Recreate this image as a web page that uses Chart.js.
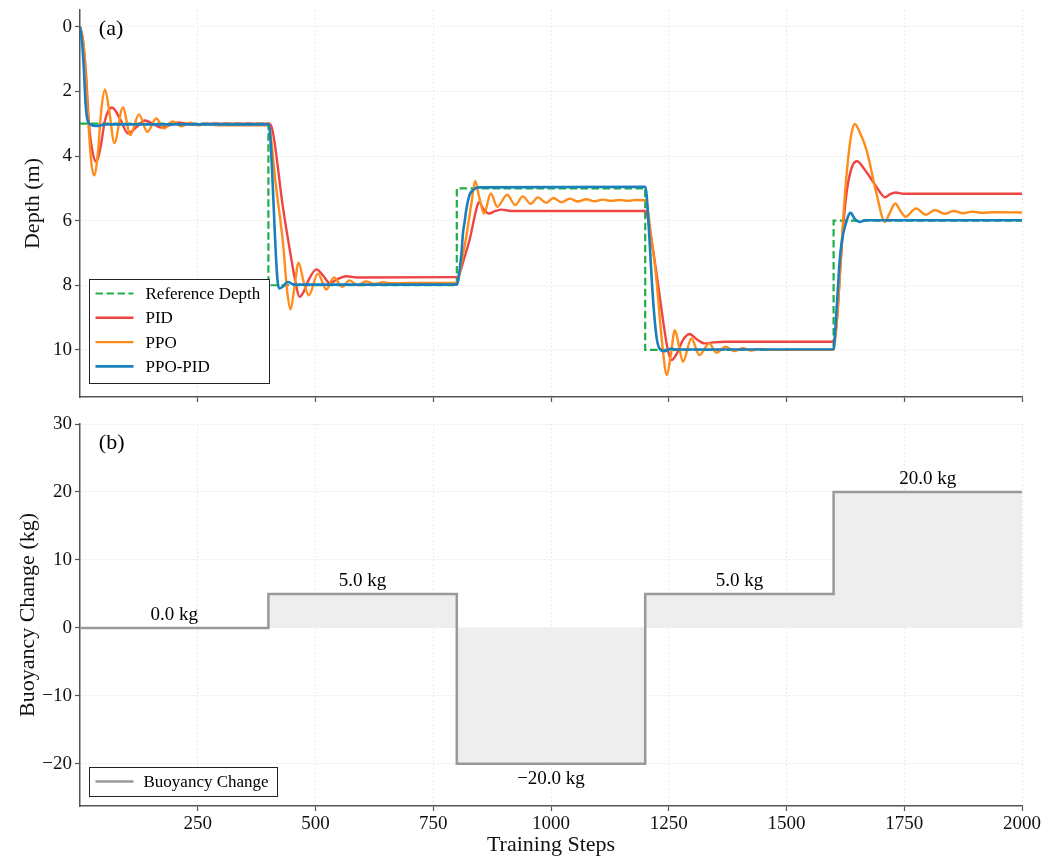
<!DOCTYPE html>
<html>
<head>
<meta charset="utf-8">
<script src="https://cdn.jsdelivr.net/npm/chart.js@4.4.1/dist/chart.umd.min.js"></script>
<style>
  html, body { margin: 0; padding: 0; background: #fff; }
  #wrap { position: relative; width: 1057px; height: 859px; }
  canvas { position: absolute; left: 0; }
  #depthChart { top: 0; }
  #buoyChart { top: 410px; }
</style>
</head>
<body>
<div id="wrap">
  <canvas id="depthChart" width="1057" height="410" style="width:1057px;height:410px"></canvas>
  <canvas id="buoyChart" width="1057" height="449" style="width:1057px;height:449px"></canvas>
</div>
<script>
// ---- data ----
// phase boundaries (training steps) and the set-point / disturbance for each phase
const phaseBounds = [0, 400, 800, 1200, 1600, 2000];
const refDepth = [3, 8, 5, 10, 6];          // m
const buoyancyKg = [0, 5, -20, 5, 20];      // kg

// tick values
const stepTicks = [250, 500, 750, 1000, 1250, 1500, 1750, 2000];
const depthTicks = [0, 2, 4, 6, 8, 10];
const buoyTicks = [-20, -10, 0, 10, 20, 30];

// depth responses: [training step, depth (m)]
const pidTrace = [
  [0,0],[5,0.3],[12,1.3],[19,3.0],[27,3.9],[35,4.18],[44,3.7],[53,2.9],[68,2.5],[85,2.85],[102,3.3],
  [120,3.1],[138,2.9],[155,3.0],[172,3.12],[190,3.05],[208,2.96],[225,3.0],[240,3.03],[270,3.0],[400,3.0],
  [404,3.02],[410,3.3],[431,5.6],[450,7.3],[458,7.95],[466,8.36],[475,8.2],[485,7.85],[502,7.51],[516,7.7],
  [530,7.93],[548,7.8],[565,7.72],[590,7.76],[800,7.75],
  [804,7.7],[815,7.2],[827,6.6],[841,5.68],[847,5.42],[857,5.65],[868,5.78],[882,5.7],[895,5.66],[915,5.7],[1200,5.7],
  [1203,5.75],[1210,6.3],[1223,7.53],[1240,9.3],[1248,10.0],[1256,10.32],[1266,10.15],[1280,9.7],[1294,9.51],
  [1310,9.68],[1326,9.8],[1345,9.77],[1370,9.75],[1600,9.75],
  [1602,9.7],[1608,8.9],[1615,7.3],[1622,5.9],[1630,4.9],[1640,4.3],[1650,4.16],[1665,4.4],[1684,4.8],[1700,5.15],
  [1709,5.28],[1720,5.18],[1732,5.13],[1748,5.17],[2000,5.17]
];
const ppoTrace = [
  [0,0],[8,0.6],[18,3.0],[24,4.2],[30,4.6],[38,3.9],[45,2.6],[53,1.94],[62,2.6],[73,3.6],[91,2.5],[107,3.35],
  [125,2.71],[143,3.25],[162,2.84],[178,3.15],[197,2.93],[215,3.08],[233,2.97],[252,3.05],[270,3.01],[290,3.05],[400,3.05],
  [403,3.15],[415,4.8],[431,6.7],[440,8.2],[447,8.75],[455,8.1],[464,7.3],[475,7.9],[486,8.31],[505,7.64],[523,8.13],
  [539,7.76],[557,8.05],[572,7.85],[590,8.0],[607,7.88],[625,7.96],[643,7.91],[660,7.94],[700,7.93],[800,7.93],
  [803,7.85],[810,7.3],[820,6.5],[831,5.47],[839,4.77],[848,5.3],[858,5.78],[872,5.16],[886,5.57],[907,5.2],[924,5.52],
  [940,5.25],[957,5.48],[972,5.28],[990,5.45],[1005,5.3],[1022,5.43],[1040,5.32],[1057,5.41],[1075,5.34],[1093,5.4],
  [1110,5.35],[1128,5.39],[1145,5.36],[1163,5.39],[1180,5.36],[1200,5.37],
  [1203,5.45],[1212,6.4],[1223,7.7],[1236,9.8],[1246,10.78],[1254,10.2],[1263,9.39],[1272,9.9],[1280,10.37],[1298,9.65],
  [1315,10.16],[1336,9.8],[1351,10.09],[1371,9.9],[1389,10.04],[1407,9.95],[1425,10.02],[1445,9.97],[1465,10.0],[1600,10.0],
  [1602,9.85],[1610,8.5],[1620,6.0],[1630,4.2],[1638,3.3],[1645,3.01],[1655,3.25],[1670,3.82],[1691,5.16],[1709,6.04],
  [1718,5.8],[1731,5.47],[1742,5.7],[1753,5.88],[1775,5.62],[1796,5.82],[1815,5.67],[1836,5.79],[1855,5.7],[1875,5.77],
  [1895,5.72],[1915,5.76],[1940,5.74],[2000,5.75]
];
const ppoPidTrace = [
  [0,0],[3,0.3],[7,1.0],[12,2.4],[16,2.9],[22,3.02],[35,3.07],[55,3.02],[400,3.02],
  [403,3.2],[408,4.5],[414,6.5],[419,7.8],[423,8.1],[430,8.05],[441,7.9],[455,7.98],[800,7.98],
  [803,7.85],[807,7.4],[810,7.0],[813,6.4],[817,6.0],[820,5.67],[827,5.21],[835,5.05],[845,4.97],[1200,4.95],
  [1203,5.2],[1208,6.3],[1213,7.6],[1218,8.7],[1224,9.6],[1230,9.95],[1241,10.04],[1255,9.97],[1270,9.99],[1600,9.98],
  [1602,9.7],[1607,8.6],[1613,7.22],[1618,6.6],[1624,6.19],[1636,5.76],[1645,5.95],[1655,6.04],[1668,5.99],[2000,5.99]
];

// ---- helpers ----
const FONT = "'Liberation Serif', 'Times New Roman', serif";
const AXIS = '#555555';
const GRID = '#ebebeb';

const toXY = trace => trace.map(([x, y]) => ({ x, y }));
// step series: the value of phase i starts at phaseBounds[i]
const stepPoints = values => phaseBounds.map((b, i) => ({ x: b, y: values[Math.min(i, values.length - 1)] }));
const minusSign = v => String(v).replace('-', '\u2212');

const fixedTicks = list => scale => { scale.ticks = list.map(v => ({ value: v })); };

// panel tag "(a)" / "(b)" in the upper-left corner of the plot area
const panelTag = {
  id: 'panelTag',
  afterDraw(chart, args, opts) {
    const { ctx, chartArea: a } = chart;
    ctx.save();
    ctx.font = '22px ' + FONT;
    ctx.fillStyle = '#000';
    ctx.textAlign = 'left';
    ctx.textBaseline = 'middle';
    ctx.fillText(opts.text, a.left + 0.02 * (a.right - a.left), a.top + 0.05 * (a.bottom - a.top));
    ctx.restore();
  }
};

// framed legend box drawn inside the plot area
const boxLegend = {
  id: 'boxLegend',
  afterDraw(chart, args, opts) {
    const { ctx } = chart;
    const ds = chart.data.datasets;
    ctx.save();
    ctx.fillStyle = '#fff';
    ctx.fillRect(opts.x, opts.y, opts.w, opts.h);
    ctx.strokeStyle = '#222';
    ctx.lineWidth = 1;
    ctx.strokeRect(opts.x, opts.y, opts.w, opts.h);
    ctx.font = '17px ' + FONT;
    ctx.textAlign = 'left';
    ctx.textBaseline = 'middle';
    ds.forEach((d, i) => {
      const y = opts.rowY + i * opts.rowGap;
      ctx.beginPath();
      ctx.setLineDash(d.borderDash || []);
      ctx.strokeStyle = d.borderColor;
      ctx.lineWidth = d.borderWidth;
      ctx.moveTo(opts.x + 6, y);
      ctx.lineTo(opts.x + 44, y);
      ctx.stroke();
      ctx.setLineDash([]);
      ctx.fillStyle = '#000';
      ctx.fillText(d.label, opts.x + opts.textDx, y + 1);
    });
    ctx.restore();
  }
};

// value label over each buoyancy phase
const phaseLabels = {
  id: 'phaseLabels',
  afterDatasetsDraw(chart) {
    const { ctx, scales: { x, y } } = chart;
    ctx.save();
    ctx.font = '19px ' + FONT;
    ctx.fillStyle = '#000';
    ctx.textAlign = 'center';
    buoyancyKg.forEach((v, i) => {
      const px = x.getPixelForValue((phaseBounds[i] + phaseBounds[i + 1]) / 2);
      const py = y.getPixelForValue(v);
      const text = minusSign(v.toFixed(1)) + ' kg';
      if (v >= 0) {
        ctx.textBaseline = 'alphabetic';
        ctx.fillText(text, px, py - 8);
      } else {
        ctx.textBaseline = 'top';
        ctx.fillText(text, px, py + 6);
      }
    });
    ctx.restore();
  }
};

const xScale = (showLabels, height) => ({
  type: 'linear',
  min: 0,
  max: 2000,
  afterBuildTicks: fixedTicks(stepTicks),
  afterFit: s => { s.height = height; s.paddingLeft = 0; s.paddingRight = 0; },
  ticks: { display: showLabels, padding: 2, color: '#111', font: { family: FONT, size: 19 }, callback: v => String(v) },
  grid: { color: GRID, lineWidth: 1, tickLength: 5, tickColor: AXIS, tickWidth: 1.2 },
  border: { color: AXIS, width: 1.5, dash: [2, 2] },
  title: showLabels
    ? { display: true, text: 'Training Steps', color: '#111', font: { family: FONT, size: 22 }, padding: { top: 0, bottom: 1 } }
    : { display: false }
});

const yScale = (extra) => Object.assign({
  type: 'linear',
  afterFit: s => { s.width = 80; s.paddingTop = 0; s.paddingBottom = 0; },
  ticks: { padding: 3, color: '#111', font: { family: FONT, size: 19 } },
  grid: { color: GRID, lineWidth: 1, tickLength: 5, tickColor: AXIS, tickWidth: 1.2 },
  border: { color: AXIS, width: 1.5, dash: [2, 2] }
}, extra);

Chart.defaults.font.family = FONT;

// ---- (a) depth tracking ----
new Chart(document.getElementById('depthChart'), {
  type: 'line',
  data: {
    datasets: [
      { label: 'Reference Depth', data: stepPoints(refDepth), stepped: 'before', borderColor: '#1fae48',
        borderWidth: 2.2, borderDash: [7.5, 3.5], pointRadius: 0, fill: false, order: 4 },
      { label: 'PID', data: toXY(pidTrace), cubicInterpolationMode: 'monotone', borderColor: '#f04444',
        borderWidth: 2.4, pointRadius: 0, fill: false, order: 3 },
      { label: 'PPO', data: toXY(ppoTrace), cubicInterpolationMode: 'monotone', borderColor: '#ff8c1a',
        borderWidth: 2.4, pointRadius: 0, fill: false, order: 2 },
      { label: 'PPO-PID', data: toXY(ppoPidTrace), cubicInterpolationMode: 'monotone', borderColor: '#1a7fbd',
        borderWidth: 2.6, pointRadius: 0, fill: false, order: 1 }
    ]
  },
  options: {
    responsive: false,
    animation: false,
    layout: { padding: { top: 10, right: 35, bottom: 0, left: 0 } },
    scales: {
      x: xScale(false, 13),
      y: yScale({
        reverse: true, min: -0.52, max: 11.46,
        afterBuildTicks: fixedTicks(depthTicks),
        title: { display: true, text: 'Depth (m)', color: '#111', font: { family: FONT, size: 22 }, padding: { top: 20, bottom: 0 } }
      })
    },
    plugins: {
      legend: { display: false },
      tooltip: { enabled: false },
      panelTag: { text: '(a)' },
      boxLegend: { x: 89.5, y: 279.5, w: 180, h: 104, rowY: 293.5, rowGap: 24.3, textDx: 56 }
    }
  },
  plugins: [panelTag, boxLegend]
});

// ---- (b) buoyancy disturbance ----
new Chart(document.getElementById('buoyChart'), {
  type: 'line',
  data: {
    datasets: [
      { label: 'Buoyancy Change', data: stepPoints(buoyancyKg), stepped: 'before', borderColor: '#999999',
        borderWidth: 2.5, backgroundColor: '#eeeeee', fill: 'origin', pointRadius: 0 }
    ]
  },
  options: {
    responsive: false,
    animation: false,
    layout: { padding: { top: 14, right: 35, bottom: 0, left: 0 } },
    scales: {
      x: xScale(true, 53),
      y: yScale({
        min: -26.2, max: 30,
        afterBuildTicks: fixedTicks(buoyTicks),
        ticks: { padding: 3, color: '#111', font: { family: FONT, size: 19 }, callback: v => minusSign(v) },
        title: { display: true, text: 'Buoyancy Change (kg)', color: '#111', font: { family: FONT, size: 22 }, padding: { top: 15, bottom: 0 } }
      })
    },
    plugins: {
      legend: { display: false },
      tooltip: { enabled: false },
      panelTag: { text: '(b)' },
      boxLegend: { x: 89.5, y: 357.5, w: 188, h: 29, rowY: 371.5, rowGap: 24, textDx: 54 }
    }
  },
  plugins: [panelTag, boxLegend, phaseLabels]
});
</script>
</body>
</html>
